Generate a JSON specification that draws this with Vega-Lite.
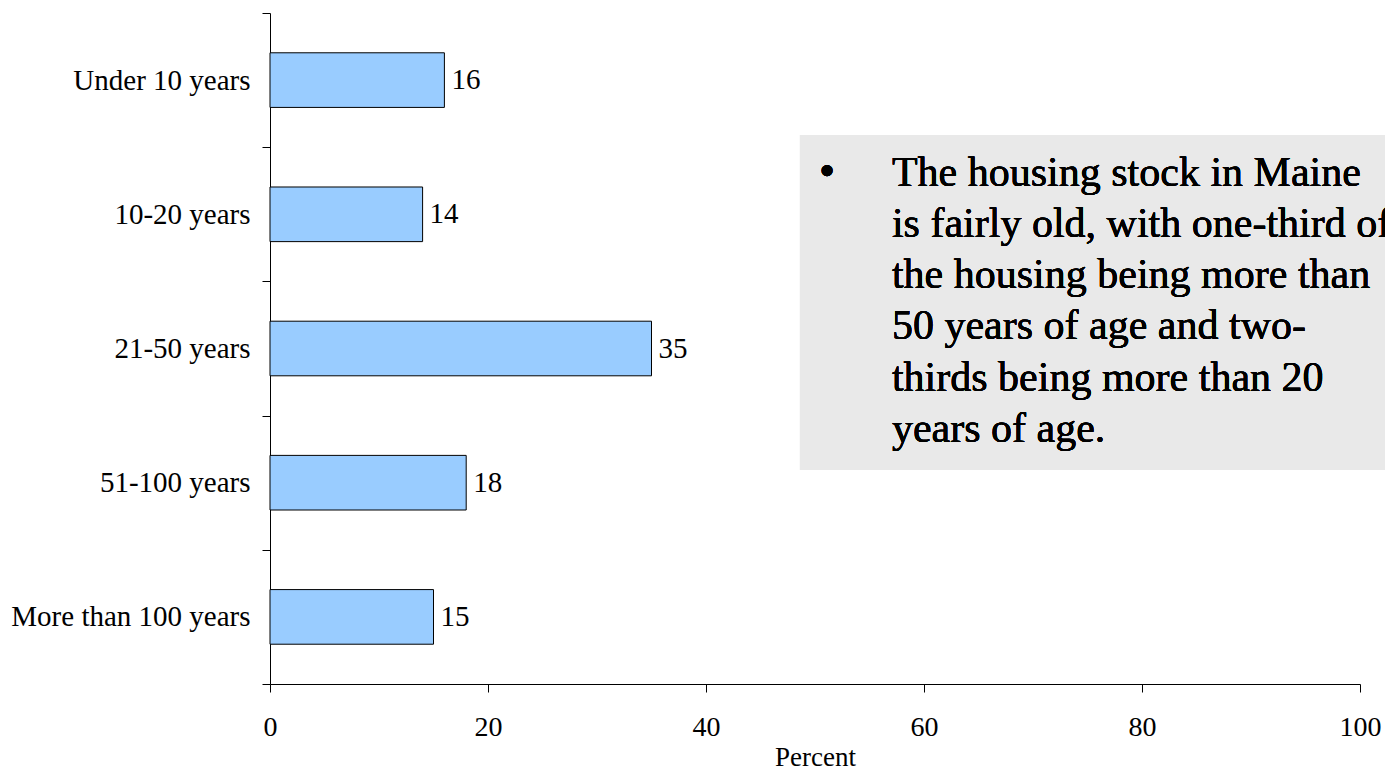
{
  "$schema": "https://vega.github.io/schema/vega-lite/v6.json",
  "width": 1090,
  "height": 671,
  "autosize": {"type": "none"},
  "padding": {"left": 270, "top": 13, "right": 25, "bottom": 87},
  "background": "white",
  "config": {"view": {"stroke": null}},
  "data": {
    "values": [
      {"age": "Under 10 years", "percent": 16},
      {"age": "10-20 years", "percent": 14},
      {"age": "21-50 years", "percent": 35},
      {"age": "51-100 years", "percent": 18},
      {"age": "More than 100 years", "percent": 15}
    ]
  },
  "resolve": {"scale": {"y": "independent"}},
  "layer": [
    {
      "encoding": {
        "y": {
          "field": "age",
          "type": "nominal",
          "sort": null,
          "scale": {"paddingInner": 0, "paddingOuter": 0},
          "axis": {
            "title": null,
            "tickBand": "extent",
            "tickSize": 8,
            "tickColor": "black",
            "domainColor": "black",
            "labelFont": "Liberation Serif",
            "labelFontSize": 29,
            "labelColor": "black",
            "labelPadding": 12,
            "labelLimit": 400,
            "grid": false
          }
        },
        "x": {
          "field": "percent",
          "type": "quantitative",
          "scale": {"domain": [0, 100], "nice": false},
          "axis": {
            "values": [0, 20, 40, 60, 80, 100],
            "title": "Percent",
            "titleFont": "Liberation Serif",
            "titleFontSize": 27,
            "titleFontWeight": "normal",
            "titleColor": "black",
            "titlePadding": 3,
            "tickSize": 8,
            "tickColor": "black",
            "domainColor": "black",
            "labelFont": "Liberation Serif",
            "labelFontSize": 28,
            "labelColor": "black",
            "labelPadding": 21,
            "labelFlush": false,
            "grid": false
          }
        }
      },
      "layer": [
        {"mark": {"type": "bar", "fill": "#99CCFF", "stroke": "black", "strokeWidth": 1, "height": {"band": 0.407}}},
        {
          "mark": {"type": "text", "align": "left", "baseline": "middle", "dx": 7, "font": "Liberation Serif", "fontSize": 29, "fill": "black"},
          "encoding": {"text": {"field": "percent", "type": "quantitative"}}
        }
      ]
    },
    {
      "encoding": {
        "y": {"datum": 81.8, "type": "quantitative", "scale": {"domain": [0, 100], "nice": false, "zero": false}, "axis": null}
      },
      "layer": [
        {
          "mark": {"type": "rect", "fill": "#E9E9E9"},
          "encoding": {
            "x": {"datum": 48.62, "type": "quantitative"},
            "x2": {"datum": 106},
            "y2": {"datum": 31.9}
          }
        },
        {
          "mark": {"type": "text", "align": "center", "baseline": "alphabetic", "font": "Liberation Serif", "fontSize": 46, "fill": "black", "text": "•"},
          "encoding": {
            "x": {"datum": 51.1, "type": "quantitative"},
            "y": {"datum": 74.2, "type": "quantitative"}
          }
        },
        {
          "mark": {"type": "text", "align": "left", "baseline": "alphabetic", "font": "Liberation Serif", "fontSize": 42, "lineHeight": 51.1, "fill": "black",
            "text": ["The housing stock in Maine", "is fairly old, with one-third of", "the housing being more than", "50 years of age and two-", "thirds being more than 20", "years of age."]},
          "encoding": {
            "x": {"datum": 57.06, "type": "quantitative"},
            "y": {"datum": 74.2, "type": "quantitative"}
          }
        }
      ]
    }
  ]
}
